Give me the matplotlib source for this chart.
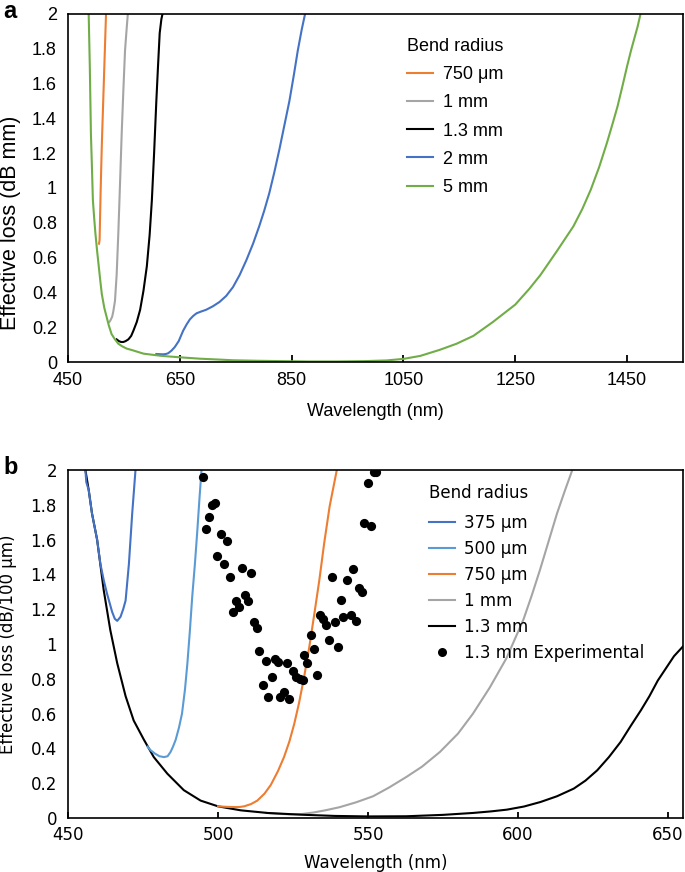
import matplotlib
matplotlib.use("Agg")
import matplotlib.pyplot as plt
from matplotlib.lines import Line2D

# ---------------- Panel a data ----------------
a_750_x = [505.5, 506.5, 507.5, 508.5, 510.5, 513.0, 515.5, 518.0]
a_750_y = [0.68, 0.70, 0.85, 1.00, 1.25, 1.50, 1.75, 2.0]
a_1mm_x = [524, 526, 529, 531, 534, 537, 540, 543, 546, 549, 552, 555, 557]
a_1mm_y = [0.23, 0.24, 0.26, 0.29, 0.35, 0.50, 0.74, 1.02, 1.31, 1.56, 1.79, 1.92, 2.0]
a_13_x = [537, 541, 545, 549, 553, 558, 563, 567, 573, 579, 585, 591, 596, 600, 604, 608, 611, 614, 617, 619]
a_13_y = [0.13, 0.12, 0.115, 0.115, 0.12, 0.13, 0.15, 0.18, 0.23, 0.30, 0.41, 0.55, 0.73, 0.93, 1.2, 1.5, 1.7, 1.89, 1.97, 2.0]
a_2mm_x = [608, 614, 620, 625, 629, 635, 641, 648, 656, 662, 668, 674, 680, 688, 697, 709, 721,
           733, 745, 757, 769, 781, 792, 801, 810, 819, 828, 837, 846, 854, 861, 868, 874]
a_2mm_y = [0.046, 0.045, 0.044, 0.046, 0.05, 0.065, 0.086, 0.12, 0.18, 0.215, 0.245, 0.265, 0.28,
           0.29, 0.30, 0.32, 0.345, 0.38, 0.43, 0.50, 0.585, 0.68, 0.78, 0.87, 0.97, 1.09, 1.22,
           1.36, 1.50, 1.65, 1.79, 1.91, 2.0]
a_5mm_x = [487, 489, 491, 493, 494.5, 497, 499, 502, 505, 508, 510.5, 515, 519, 523, 528, 534, 540,
           547, 555, 565, 575, 585, 600, 615, 626, 650, 686, 720, 745, 790, 834, 880, 930, 980,
           1020, 1050, 1080, 1115, 1145, 1175, 1210, 1250, 1275, 1295, 1325, 1354, 1370, 1385,
           1400, 1414, 1425, 1433, 1442, 1450, 1457, 1463, 1469, 1474]
a_5mm_y = [2.0, 1.70, 1.31, 1.10, 0.93, 0.82, 0.74, 0.64, 0.55, 0.46, 0.39, 0.31, 0.26, 0.21, 0.16,
           0.13, 0.105, 0.09, 0.077, 0.068, 0.058, 0.048, 0.042, 0.036, 0.033, 0.027, 0.019, 0.014,
           0.010, 0.007, 0.005, 0.003, 0.003, 0.005, 0.009, 0.018, 0.035, 0.07, 0.105, 0.15, 0.23,
           0.33, 0.42, 0.50, 0.64, 0.78, 0.88, 0.99, 1.12, 1.26, 1.38, 1.47, 1.59, 1.70, 1.79,
           1.86, 1.93, 2.0]

# ---------------- Panel b data ----------------
b_375_x = [455.8, 456.1, 456.9, 458.0, 459.7, 460.8, 462.0, 463.0, 464.7, 465.6, 466.4, 467.5,
           468.4, 469.2, 470.3, 471.4, 472.5]
b_375_y = [2.0, 1.93, 1.885, 1.75, 1.60, 1.46, 1.36, 1.29, 1.185, 1.145, 1.133, 1.156, 1.20, 1.25,
           1.46, 1.75, 2.0]
b_500_x = [476.5, 477.5, 479.0, 480.5, 482.0, 483.2, 484.2, 485.0, 485.9, 487.0, 488.0, 489.0,
           489.8, 490.6, 491.4, 492.3, 493.1, 493.8, 494.5]
b_500_y = [0.41, 0.39, 0.37, 0.355, 0.35, 0.355, 0.38, 0.41, 0.45, 0.52, 0.60, 0.74, 0.89, 1.07,
           1.27, 1.46, 1.65, 1.83, 2.0]
b_750_x = [500.0, 503.0, 505.3, 507.0, 508.7, 511.0, 513.1, 515.5, 517.6, 520.0, 522.0,
           523.8, 525.4, 527.0, 528.7, 530.4, 532.0, 533.8, 535.4, 537.2, 538.8, 539.6]
b_750_y = [0.067, 0.064, 0.063, 0.063, 0.067, 0.08, 0.10, 0.14, 0.19, 0.27, 0.35, 0.44,
           0.54, 0.66, 0.81, 0.98, 1.16, 1.37, 1.58, 1.79, 1.93, 2.0]
b_1mm_x = [516, 520, 524, 528, 532, 536, 540.5, 546, 551.7, 557, 562.8, 568, 574, 580, 585, 590.6,
           596.2, 601.8, 604.6, 607.4, 610.2, 613.0, 615.6, 618.1]
b_1mm_y = [0.029, 0.024, 0.021, 0.023, 0.032, 0.045, 0.062, 0.09, 0.125, 0.175, 0.236, 0.295, 0.38,
           0.485, 0.60, 0.75, 0.92, 1.14, 1.28, 1.43, 1.59, 1.75, 1.88, 2.0]
b_13_x = [455.8, 456.9, 458.0, 459.7, 461.9, 464.1, 466.4, 469.2, 471.9, 475.3, 478.6, 483.1, 488.6,
          494.2, 500.0, 507.6, 516.5, 527.6, 538.8, 550.0, 562.8, 575.0, 585.0, 591.0, 596.3,
          602.0, 607.5, 613.0, 618.6, 622.5, 626.4, 630.3, 634.2, 637.6, 641.0, 643.8, 646.6,
          649.3, 652.0, 655.2]
b_13_y = [2.0, 1.885, 1.75, 1.60, 1.31, 1.08, 0.89, 0.70, 0.56, 0.45, 0.35, 0.255, 0.16, 0.10,
          0.067, 0.044, 0.029, 0.019, 0.012, 0.009, 0.01, 0.018, 0.029, 0.038, 0.048, 0.066,
          0.092, 0.125, 0.169, 0.215, 0.274, 0.35, 0.437, 0.53, 0.62, 0.70, 0.79, 0.86, 0.93, 0.99]

exp_x = [494.9, 497.9, 499.0, 497.1, 496.0, 500.9, 503.1, 499.8, 502.0, 504.0, 507.9, 510.9,
         506.0, 507.1, 504.9, 509.0, 510.1, 512.0, 512.9, 513.8, 516.0, 519.0, 520.1, 522.9,
         514.9, 518.0, 516.8, 520.7, 522.0, 523.8, 524.9, 526.0, 527.3, 528.2, 528.7, 529.8,
         530.9, 532.0, 532.9, 534.0, 535.1, 536.0, 536.9, 537.9, 538.9, 540.0, 540.9, 541.8,
         543.1, 544.2, 544.9, 546.0, 546.9, 548.0, 548.8, 551.0, 550.1, 552.0, 552.7]
exp_y = [1.958, 1.799, 1.812, 1.728, 1.663, 1.632, 1.590, 1.508, 1.460, 1.383, 1.435, 1.410,
         1.249, 1.215, 1.186, 1.282, 1.249, 1.128, 1.094, 0.962, 0.904, 0.912, 0.898, 0.889,
         0.765, 0.812, 0.697, 0.697, 0.726, 0.682, 0.846, 0.808, 0.797, 0.793, 0.935, 0.893,
         1.054, 0.972, 0.822, 1.167, 1.142, 1.109, 1.023, 1.383, 1.128, 0.981, 1.253, 1.157,
         1.368, 1.167, 1.433, 1.134, 1.320, 1.299, 1.697, 1.678, 1.923, 1.990, 1.990]

a_xticks = [450, 650, 850, 1050, 1250, 1450]
a_yticks = [0, 0.2, 0.4, 0.6, 0.8, 1, 1.2, 1.4, 1.6, 1.8, 2]
a_ylabels = ["0", "0.2", "0.4", "0.6", "0.8", "1", "1.2", "1.4", "1.6", "1.8", "2"]
b_xticks = [450, 500, 550, 600, 650]

ORANGE = "#ED7D31"
GRAY = "#A5A5A5"
BLUE = "#4472C4"
LBLUE = "#5B9BD5"
GREEN = "#70AD47"

fig = plt.figure(figsize=(6.85, 8.72), dpi=100)
W, H = 685, 872

def axrect(l, t, r, b):
    return [l / W, 1 - b / H, (r - l) / W, (b - t) / H]

# ---------------- Panel a ----------------
fa = "Liberation Sans"
FSA = 13
axa = fig.add_axes(axrect(68, 14, 683, 362))
axa.plot(a_750_x, a_750_y, color=ORANGE, lw=1.5, label="750 μm")
axa.plot(a_1mm_x, a_1mm_y, color=GRAY, lw=1.5, label="1 mm")
axa.plot(a_13_x, a_13_y, color="black", lw=1.5, label="1.3 mm")
axa.plot(a_2mm_x, a_2mm_y, color=BLUE, lw=1.5, label="2 mm")
axa.plot(a_5mm_x, a_5mm_y, color=GREEN, lw=1.5, label="5 mm")
axa.set_xlim(450, 1550)
axa.set_ylim(0, 2)
axa.set_xticks(a_xticks)
axa.set_xticklabels([str(v) for v in a_xticks], fontfamily=fa, fontsize=FSA)
axa.set_yticks(a_yticks)
axa.set_yticklabels(a_ylabels, fontfamily=fa, fontsize=FSA)
axa.tick_params(axis="x", direction="in", length=5, width=1.3, pad=7)
axa.tick_params(axis="y", length=0, pad=8)
axa.set_xlabel("Wavelength (nm)", fontfamily=fa, fontsize=FSA, labelpad=10)
axa.set_ylabel("Effective loss (dB mm)", fontfamily=fa, fontsize=15.5)
axa.yaxis.set_label_coords(-0.0764, 0.40)
for s in axa.spines.values():
    s.set_linewidth(1.2)
leg = axa.legend(loc="upper left", bbox_to_anchor=(0.536, 0.957), frameon=False,
                 title="Bend radius", prop={"family": fa, "size": FSA}, borderpad=0,
                 handlelength=1.45, handletextpad=0.55, labelspacing=0.62)
leg.get_title().set_fontfamily(fa)
leg.get_title().set_fontsize(FSA)
leg._legend_box.align = "left"
fig.text(3 / W, 1 - 12 / H, "a", fontfamily=fa, fontsize=17, fontweight="bold", va="center")

# ---------------- Panel b ----------------
fb = "DejaVu Sans"
FSB = 12
axb = fig.add_axes(axrect(68, 470, 683, 818))
axb.plot(b_13_x, b_13_y, color="black", lw=1.5, zorder=1)
axb.plot(b_375_x, b_375_y, color=BLUE, lw=1.5, zorder=2)
axb.plot(b_500_x, b_500_y, color=LBLUE, lw=1.5, zorder=2)
axb.plot(b_750_x, b_750_y, color=ORANGE, lw=1.5, zorder=2)
axb.plot(b_1mm_x, b_1mm_y, color=GRAY, lw=1.5, zorder=0.9)
axb.scatter(exp_x, exp_y, s=44, color="black", zorder=3, linewidths=0)
axb.set_xlim(450, 655)
axb.set_ylim(0, 2)
axb.set_xticks(b_xticks)
axb.set_xticklabels([str(v) for v in b_xticks], fontfamily=fb, fontsize=FSB)
axb.set_yticks(a_yticks)
axb.set_yticklabels(a_ylabels, fontfamily=fb, fontsize=FSB)
axb.tick_params(axis="x", direction="in", length=4.5, width=1.3, pad=6)
axb.tick_params(axis="y", length=0, pad=8)
axb.set_xlabel("Wavelength (nm)", fontfamily=fb, fontsize=FSB, labelpad=7)
axb.set_ylabel("Effective loss (dB/100 μm)", fontfamily=fb, fontsize=FSB)
axb.yaxis.set_label_coords(-0.083, 0.5)
for s in axb.spines.values():
    s.set_linewidth(1.2)
handles = [Line2D([], [], color=BLUE, lw=1.5), Line2D([], [], color=LBLUE, lw=1.5),
           Line2D([], [], color=ORANGE, lw=1.5), Line2D([], [], color=GRAY, lw=1.5),
           Line2D([], [], color="black", lw=1.5),
           Line2D([], [], color="black", marker="o", ls="none", markersize=6.5,
                  markeredgewidth=0)]
labels = ["375 μm", "500 μm", "750 μm", "1 mm", "1.3 mm", "1.3 mm Experimental"]
legb = axb.legend(handles, labels, loc="upper left", bbox_to_anchor=(0.574, 0.984),
                  frameon=False, title="Bend radius", prop={"family": fb, "size": FSB},
                  borderpad=0, handlelength=1.54, handletextpad=0.52, labelspacing=0.48)
legb.get_title().set_fontfamily(fb)
legb.get_title().set_fontsize(FSB)
legb._legend_box.align = "left"
legb._legend_box.sep = legb._legend_box.sep + 3.0
fig.text(3 / W, 1 - 467 / H, "b", fontfamily=fa, fontsize=17, fontweight="bold", va="center")

fig.savefig("out.png", dpi=100)
